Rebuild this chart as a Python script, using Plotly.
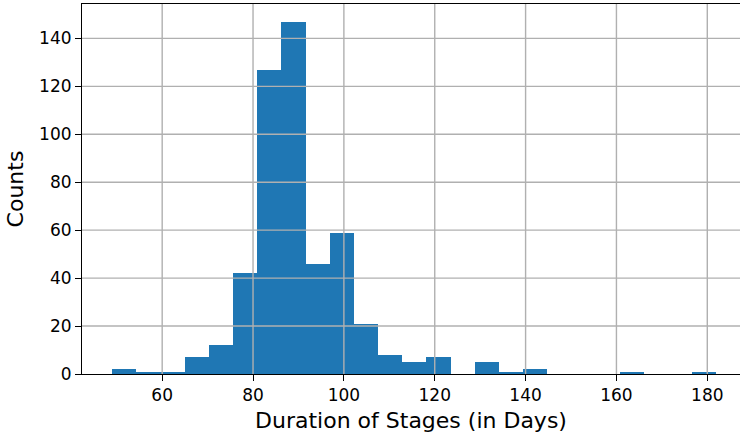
import numpy as np
import plotly.graph_objects as go

# Histogram data
bin_start = 49.0
bin_end = 182.0
counts = [2, 1, 1, 7, 12, 42, 127, 147, 46, 59, 21, 8, 5, 7, 0, 5, 1, 2, 0, 0, 0, 1, 0, 0, 1]
x_ticks = [60, 80, 100, 120, 140, 160, 180]
y_ticks = [0, 20, 40, 60, 80, 100, 120, 140]

n_bins = len(counts)
edges = np.linspace(bin_start, bin_end, n_bins + 1)
centers = (edges[:-1] + edges[1:]) / 2
width = edges[1] - edges[0]

fig = go.Figure()
fig.add_trace(go.Bar(
    x=centers, y=counts, width=width,
    marker=dict(color="#1f77b4", line=dict(width=0)),
    hoverinfo="x+y",
))

grid_color = "#b0b0b0"
shapes = []
for xv in x_ticks:
    shapes.append(dict(type="line", xref="x", yref="paper", x0=xv, x1=xv, y0=0, y1=1,
                       line=dict(color=grid_color, width=1.4), layer="above"))
for yv in y_ticks[1:]:
    shapes.append(dict(type="line", xref="paper", yref="y", x0=0, x1=1, y0=yv, y1=yv,
                       line=dict(color=grid_color, width=1.4), layer="above"))

font_family = "DejaVu Sans"
fig.update_layout(
    width=740, height=438,
    margin=dict(l=82, r=0, t=4, b=64),
    plot_bgcolor="white", paper_bgcolor="white",
    bargap=0, showlegend=False,
    shapes=shapes,
    font=dict(family=font_family, color="black", size=17),
    xaxis=dict(
        range=[42.35, 187.2], tickvals=x_ticks, ticks="outside", ticklen=6, tickwidth=1.1,
        tickcolor="black", showgrid=False, zeroline=False, showline=True, linecolor="black",
        linewidth=1.1, mirror=True, layer="above traces",
        tickfont=dict(size=17, family=font_family),
        title=dict(text="Duration of Stages (in Days)", font=dict(size=22, family=font_family), standoff=8),
    ),
    yaxis=dict(
        range=[0, 154.35], tickvals=y_ticks, ticks="outside", ticklen=6, tickwidth=1.1,
        tickcolor="black", showgrid=False, zeroline=False, showline=True, linecolor="black",
        linewidth=1.1, mirror=False, layer="above traces",
        tickfont=dict(size=17, family=font_family),
        title=dict(text="Counts", font=dict(size=22, family=font_family), standoff=9),
    ),
)

fig.write_html("out.html")
